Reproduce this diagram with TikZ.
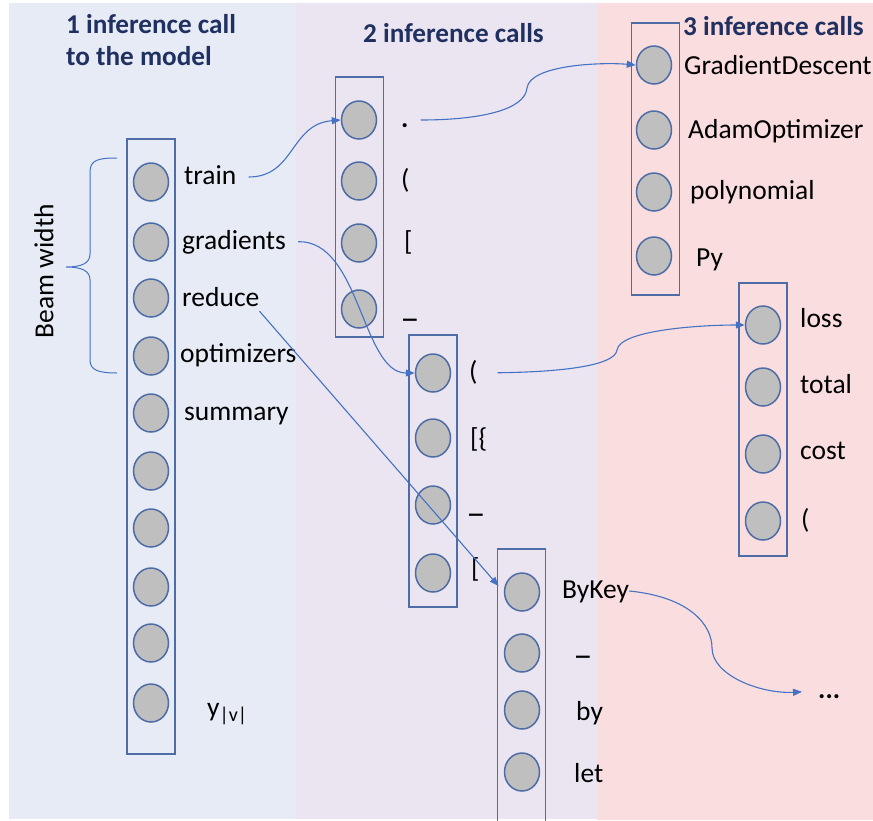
\documentclass[tikz,border=0pt]{standalone}
\usepackage{fontspec}
\setmainfont{Carlito}
\usetikzlibrary{shapes.geometric,arrows.meta}
\definecolor{paneA}{RGB}{231,235,246}
\definecolor{paneB}{RGB}{235,229,241}
\definecolor{paneC}{RGB}{250,222,223}
\definecolor{navy}{RGB}{32,48,96}
\definecolor{edge}{RGB}{78,108,165}
\definecolor{wire}{RGB}{68,114,196}
\definecolor{ball}{RGB}{191,191,191}
\begin{document}
\begin{tikzpicture}[x=1pt,y=-1pt,
  font=\fontsize{27.5}{31}\selectfont,
  tok/.style={ellipse,draw=edge,fill=ball,line width=1.5pt,minimum width=35pt,minimum height=38pt,inner sep=0pt},
  beam/.style={draw=edge,line width=1.3pt,minimum width=48pt,inner sep=0pt},
  word/.style={anchor=base west,inner sep=0pt,text height=19pt,text depth=5pt},
  head/.style={word,text=navy,font=\fontsize{27.2}{31}\selectfont\bfseries},
  link/.style={draw=wire,line width=1.1pt,-{Triangle[length=9pt,width=7pt]}}]
  \useasboundingbox (0,0) rectangle (873,820);
  % the three stages
  \fill[paneA] (9,3) rectangle (296,819);
  \fill[paneB] (296,3) rectangle (597,819);
  \fill[paneC] (597,3) rectangle (873,820);
  \node[head] (t1) at (66,33) {1 inference call};
  \node[head] (t1b) at (66,65) {to the model};
  \node[head] (t2) at (363,42) {2 inference calls};
  \node[head] (t3) at (683,35) {3 inference calls};
  % beams
  \node[beam,minimum height=615pt] (boxA) at (151,446.5) {};
  \node[beam,minimum height=260pt] (boxB) at (359.5,207) {};
  \node[beam,minimum height=272pt] (boxC) at (433,471) {};
  \node[beam,minimum height=300pt] (boxD) at (521.5,699) {};
  \node[beam,minimum height=272pt] (boxE) at (655.5,159) {};
  \node[beam,minimum height=273pt] (boxF) at (763,419.5) {};
  \foreach \yy [count=\i] in {182,242,298,356,413,471,528,587,643,703}
    \node[tok] (a\i) at (151,\yy) {};
  \foreach \yy [count=\i] in {120,181,243,309}
    \node[tok] (b\i) at (359,\yy) {};
  \foreach \yy [count=\i] in {373,438,505,573}
    \node[tok] (c\i) at (433,\yy) {};
  \foreach \yy [count=\i] in {592,653,710,772}
    \node[tok] (d\i) at (522,\yy) {};
  \foreach \yy [count=\i] in {65,130,192,256}
    \node[tok] (e\i) at (654,\yy) {};
  \foreach \yy [count=\i] in {325,387,454,521}
    \node[tok] (f\i) at (763,\yy) {};
  % tokens
  \node[word] (train) at (184,184) {train};
  \node[word] (gradients) at (182,249) {gradients};
  \node[word] (reduce) at (182,306) {reduce};
  \node[word] (optimizers) at (180,362) {optimizers};
  \node[word] (summary) at (184,420) {summary};
  \node[word] (yv) at (207,716) {y\raisebox{-5pt}{\fontsize{20}{22}\selectfont|v|}};
  \node[word] (dot) at (401,127) {\textbf{.}};
  \node[word] (paren) at (401,188) {(};
  \node[word] (brack) at (404,250) {[};
  \node[word] (under) at (403,317) {\textbf{\_}};
  \node[word] (paren2) at (469,380) {(};
  \node[word] (curly) at (470,447) {[\{};
  \node[word] (under2) at (469,512) {\textbf{\_}};
  \node[word] (brack2) at (471,577) {[};
  \node[word] (bykey) at (562,598) {ByKey};
  \node[word] (under3) at (576,654) {\textbf{\_}};
  \node[word] (by) at (576,720) {by};
  \node[word] (let) at (574,782) {let};
  \node[word] (more) at (818,698) {\textbf{...}};
  \node[word] (gd) at (684,74) {GradientDescent};
  \node[word] (adam) at (688,138) {AdamOptimizer};
  \node[word] (poly) at (690,199) {polynomial};
  \node[word] (py) at (696,266) {Py};
  \node[word] (loss) at (800,327) {loss};
  \node[word] (total) at (800,393) {total};
  \node[word] (cost) at (800,459) {cost};
  \node[word] (paren3) at (801,528) {(};
  % beam width
  \node[rotate=90] (bw) at (44,271) {Beam width};
  \draw[wire,line width=1pt] (117,158) .. controls (98,158) and (90,160) .. (90,172) -- (90,254)
    .. controls (90,263) and (82,267) .. (66,267) .. controls (82,267) and (90,271) .. (90,280)
    -- (90,360) .. controls (90,370) and (98,373) .. (117,373);
  % expansions
  \draw[link,shorten <=12pt] (train.east) .. controls (295,177) and (290,124) .. (b1.west);
  \draw[link,shorten <=12pt] (dot.east) .. controls (480,120) and (525,110) .. (527,88)
    .. controls (530,65) and (600,62) .. (e1.west);
  \draw[link,shorten <=12pt] (gradients.east) .. controls (360,240) and (362,373) .. (c1.west);
  \draw[link,shorten >=8pt] (reduce.south east) -- (d1.west);
  \draw[link,shorten <=20pt] (paren2.east) .. controls (560,372) and (615,366) .. (617,350)
    .. controls (620,330) and (700,325) .. (f1.west);
  \draw[link,shorten >=16pt] (bykey.east) .. controls (690,597) and (712,625) .. (712,648)
    .. controls (712,675) and (760,694) .. (more.west);
\end{tikzpicture}
\end{document}
